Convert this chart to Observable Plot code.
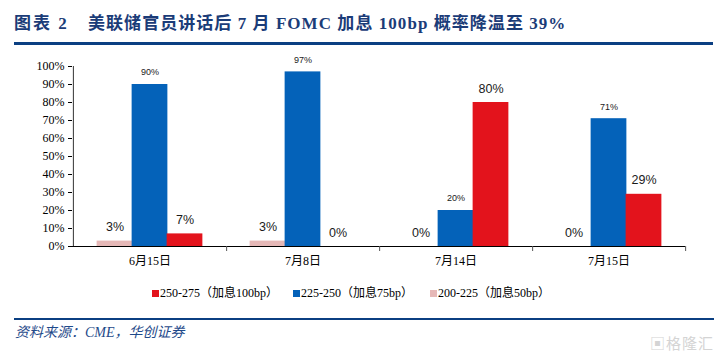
<!DOCTYPE html>
<html>
<head>
<meta charset="utf-8">
<script src="https://cdn.jsdelivr.net/npm/d3@7"></script>
<script src="https://cdn.jsdelivr.net/npm/@observablehq/plot@0.6"></script>
<style>
  html, body { margin: 0; padding: 0; background: #fff; }
  #wrap { position: relative; width: 724px; height: 359px; overflow: hidden; }
  .title { position: absolute; top: 12px; font-family: "Liberation Serif", "Noto Sans CJK SC", serif; font-weight: bold; font-size: 17px; color: #1B3C78; white-space: pre; line-height: 24px; }
  .rule { position: absolute; background: #0B3F82; }
  #chart { position: absolute; left: 0; top: 50px; }
  #chart svg g[aria-label^="x-axis"], #chart svg g[aria-label^="y-axis"],
  #chart svg g[aria-label^="x-axis"] text, #chart svg g[aria-label^="y-axis"] text {
    font-family: "Liberation Serif", "Noto Sans CJK SC", serif !important; font-size: 12px !important;
  }
  .legend { position: absolute; top: 285px; left: 0; font-family: "Liberation Serif", "Noto Sans CJK SC", serif; font-size: 12px; color: #000; }
  .lg { position: absolute; white-space: nowrap; line-height: 16px; }
  .sw { display: inline-block; width: 7px; height: 7px; margin-right: 1px; vertical-align: 0px; }
  .src { position: absolute; left: 15px; top: 323px; font-family: "Liberation Serif", "Noto Sans CJK SC", serif; font-style: italic; font-size: 14px; color: #1F4A8A; line-height: 20px; }
  .wm { position: absolute; left: 650px; top: 333px; font-family: "Noto Sans CJK SC", sans-serif; font-size: 15px; color: #d4d4d4; letter-spacing: 1px; line-height: 20px; }
</style>
</head>
<body>
<div id="wrap">
  <div class="title" style="left:14px; letter-spacing:2px;">图表 2</div>
  <div class="title" style="left:88px; letter-spacing:1.05px;">美联储官员讲话后 7 月 FOMC 加息 100bp 概率降温至 39%</div>
  <div class="rule" style="left:14px; top:42px; width:699px; height:3px;"></div>
  <div id="chart"></div>
  <div class="legend" id="legend"></div>
  <div class="rule" style="left:14px; top:318px; width:700px; height:2px;"></div>
  <div class="src">资料来源：CME，华创证券</div>
  <div class="wm">▣格隆汇</div>
</div>
<script>
// ---- data ----
const dates = ["6月15日", "7月8日", "7月14日", "7月15日"];
const hike100 = [0.07, 0.00, 0.80, 0.29];   // 250-275（加息100bp）
const hike75  = [0.90, 0.97, 0.20, 0.71];   // 225-250（加息75bp）
const hike50  = [0.03, 0.03, 0.00, 0.00];   // 200-225（加息50bp）
const seriesNames = ["250-275（加息100bp）", "225-250（加息75bp）", "200-225（加息50bp）"];
const seriesColors = ["#E3131C", "#0462B9", "#E6B8B7"];
const yTicks = [0, 0.1, 0.2, 0.3, 0.4, 0.5, 0.6, 0.7, 0.8, 0.9, 1.0];

// ---- layout ----
const W = 724, H = 230;
const mL = 72, mR = 39, mT = 16, mB = 34;
const band = (W - mL - mR) / dates.length;
const barW = 36;
const inset = (band - barW) / 2;
const step = 35;
const pct = d3.format(".0%");
const labelFont = "'Liberation Sans', Arial, sans-serif";

function seriesMarks(values, color, offset, fontSize, labelDy) {
  const rows = dates.map((d, i) => ({date: d, v: values[i]}));
  return [
    Plot.barY(rows, {x: "date", y: "v", fill: color, dx: offset, insetLeft: inset, insetRight: inset}),
    Plot.text(rows, {x: "date", y: "v", text: r => pct(r.v), dx: offset, dy: labelDy,
      fontSize, fontFamily: labelFont, fill: "#1a1a1a"})
  ];
}

const chart = Plot.plot({
  width: W, height: H,
  marginLeft: mL, marginRight: mR, marginTop: mT, marginBottom: mB,
  style: {fontFamily: "'Liberation Serif', 'Noto Sans CJK SC', serif", fontSize: "12px", color: "#000", background: "transparent"},
  x: {domain: dates, padding: 0, tickSize: 0, tickPadding: 10, label: null},
  y: {domain: [0, 1], ticks: yTicks, tickFormat: pct, tickSize: 4, tickPadding: 4, label: null},
  marks: [
    ...seriesMarks(hike50, seriesColors[2], -step, 12.5, -14),
    ...seriesMarks(hike75, seriesColors[1], 0, 9, -12),
    ...seriesMarks(hike100, seriesColors[0], step, 12.5, -14),
    Plot.ruleY([0], {stroke: "#000", strokeWidth: 1.2}),
    Plot.ruleX([dates[0]], {x: d => d, dx: -band / 2, y1: 0, y2: 1, stroke: "#333"}),
    Plot.ruleX(dates, {x: d => d, dx: band / 2, y1: 0, y2: 0, insetBottom: -5, stroke: "#555"})
  ]
});
document.getElementById("chart").appendChild(chart);

// ---- legend ----
const legendX = [152, 293, 430];
const lg = document.getElementById("legend");
seriesNames.forEach((name, i) => {
  const el = document.createElement("div");
  el.className = "lg";
  el.style.left = legendX[i] + "px";
  el.innerHTML = `<span class="sw" style="background:${seriesColors[i]}"></span>${name}`;
  lg.appendChild(el);
});
</script>
</body>
</html>
